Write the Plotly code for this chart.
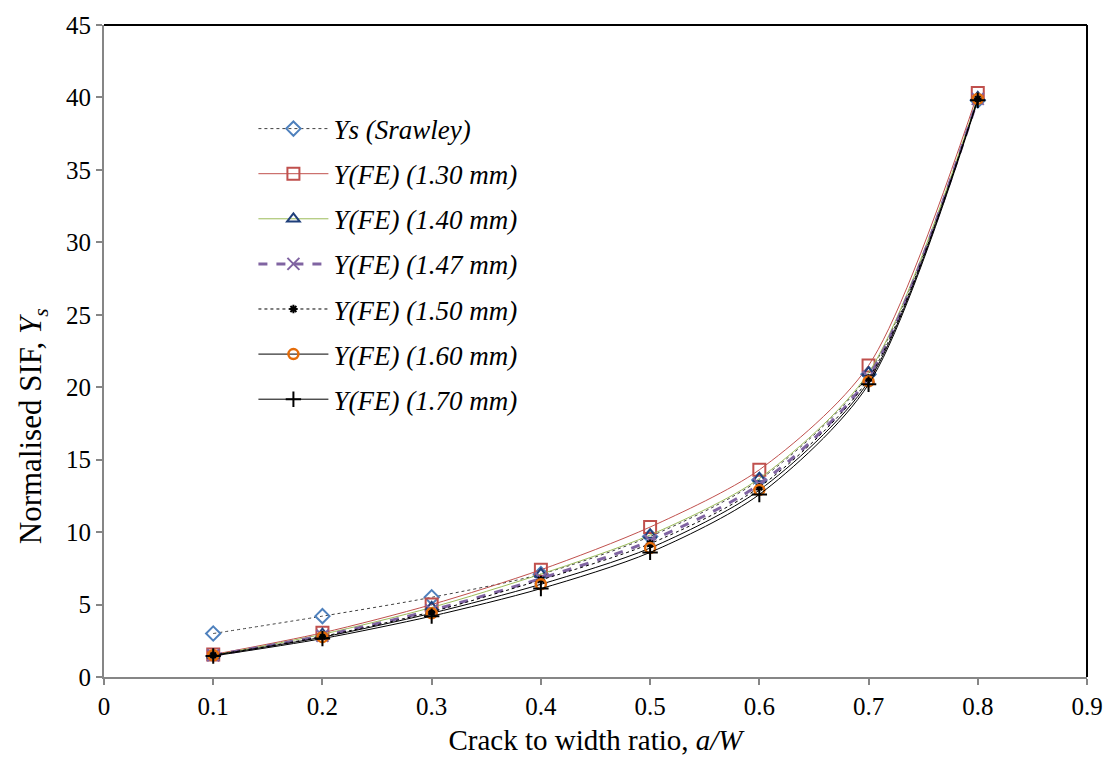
import plotly.graph_objects as go

x = [0.1, 0.2, 0.3, 0.4, 0.5, 0.6, 0.7, 0.8]
ys_srawley = [3.0, 4.2, 5.5, 7.1, 9.7, 13.6, 20.9, 39.8]
y_130 = [1.55, 3.05, 5.0, 7.4, 10.35, 14.3, 21.5, 40.3]
y_140 = [1.5, 2.95, 4.8, 7.1, 9.8, 13.7, 21.0, 40.0]
y_147 = [1.5, 2.85, 4.6, 6.8, 9.4, 13.3, 20.7, 39.9]
y_150 = [1.5, 2.8, 4.5, 6.7, 9.2, 13.1, 20.6, 39.9]
y_160 = [1.5, 2.75, 4.4, 6.4, 8.9, 12.9, 20.4, 39.9]
y_170 = [1.45, 2.65, 4.2, 6.1, 8.6, 12.6, 20.2, 39.8]

names = ["Ys (Srawley)", "Y(FE) (1.30 mm)", "Y(FE) (1.40 mm)", "Y(FE) (1.47 mm)",
         "Y(FE) (1.50 mm)", "Y(FE) (1.60 mm)", "Y(FE) (1.70 mm)"]

series = [ys_srawley, y_130, y_140, y_147, y_150, y_160, y_170]
styles = [
    dict(line=dict(color="#404040", width=1, dash="dot"),
         marker=dict(symbol="diamond-open", size=11, color="#4F81BD", line=dict(width=2))),
    dict(line=dict(color="#C0504D", width=1),
         marker=dict(symbol="square-open", size=12, color="#C0504D", line=dict(width=2))),
    dict(line=dict(color="#9BBB59", width=1),
         marker=dict(symbol="triangle-up-open", size=11, color="#1F3F7A", line=dict(width=2))),
    dict(line=dict(color="#8064A2", width=3, dash="dash"),
         marker=dict(symbol="x-thin-open", size=12, color="#8064A2", line=dict(width=2, color="#8064A2"))),
    dict(line=dict(color="#000000", width=1, dash="dot"),
         marker=dict(symbol="asterisk-open", size=7, color="#000000", line=dict(width=2, color="#000000"))),
    dict(line=dict(color="#000000", width=1),
         marker=dict(symbol="circle-open", size=10, color="#E46C0A", line=dict(width=2.5))),
    dict(line=dict(color="#000000", width=1),
         marker=dict(symbol="cross-thin-open", size=11, color="#000000", line=dict(width=2, color="#000000"))),
]

fig = go.Figure()
for i, (nm, yv, st) in enumerate(zip(names, series, styles)):
    fig.add_trace(go.Scatter(
        x=x, y=yv, name=nm, mode="lines+markers",
        line=dict(shape="spline", smoothing=0.8, **st["line"]),
        marker=st["marker"], legendgroup="g%d" % i,
    ))

fig.update_layout(
    width=1115, height=780,
    margin=dict(l=104, r=24, t=18, b=103),
    paper_bgcolor="white", plot_bgcolor="white",
    font=dict(family="Liberation Serif, Times New Roman, serif", size=25, color="black"),
    showlegend=True,
    legend=dict(x=0.152, y=0.878, xanchor="left", yanchor="top",
                font=dict(size=27, family="Liberation Serif, serif", style="italic"),
                bgcolor="rgba(0,0,0,0)", tracegroupgap=7, itemwidth=70),
    xaxis=dict(range=[0, 0.9], tickvals=[0, 0.1, 0.2, 0.3, 0.4, 0.5, 0.6, 0.7, 0.8, 0.9],
               ticktext=["0", "0.1", "0.2", "0.3", "0.4", "0.5", "0.6", "0.7", "0.8", "0.9"],
               showgrid=False, zeroline=False, showline=True, linecolor="#868686", linewidth=2,
               ticks="outside", ticklen=6, tickcolor="#868686", tickwidth=2,
               tickfont=dict(size=25),
               title=dict(text="Crack to width ratio, <i>a/W</i>", font=dict(size=29), standoff=11)),
    yaxis=dict(range=[0, 45], dtick=5, showgrid=False, zeroline=False, showline=True,
               linecolor="#868686", linewidth=2, ticks="outside", ticklen=6,
               tickcolor="#868686", tickwidth=2, tickfont=dict(size=25)),
    annotations=[
        dict(text="Normalised SIF, <i>Y<sub>s</sub></i>", textangle=-90,
             xref="paper", yref="paper", x=-0.072, y=0.385,
             xanchor="center", yanchor="middle", showarrow=False,
             font=dict(size=31)),
    ],
    shapes=[
        dict(type="line", xref="paper", yref="paper", x0=0, x1=1, y0=1, y1=1,
             line=dict(color="black", width=2)),
        dict(type="line", xref="paper", yref="paper", x0=1, x1=1, y0=0, y1=1,
             line=dict(color="black", width=2)),
    ],
)

fig.write_html("out.html", config={"displayModeBar": False},
               post_script="document.body.style.margin='0';document.body.style.overflow='hidden';")
